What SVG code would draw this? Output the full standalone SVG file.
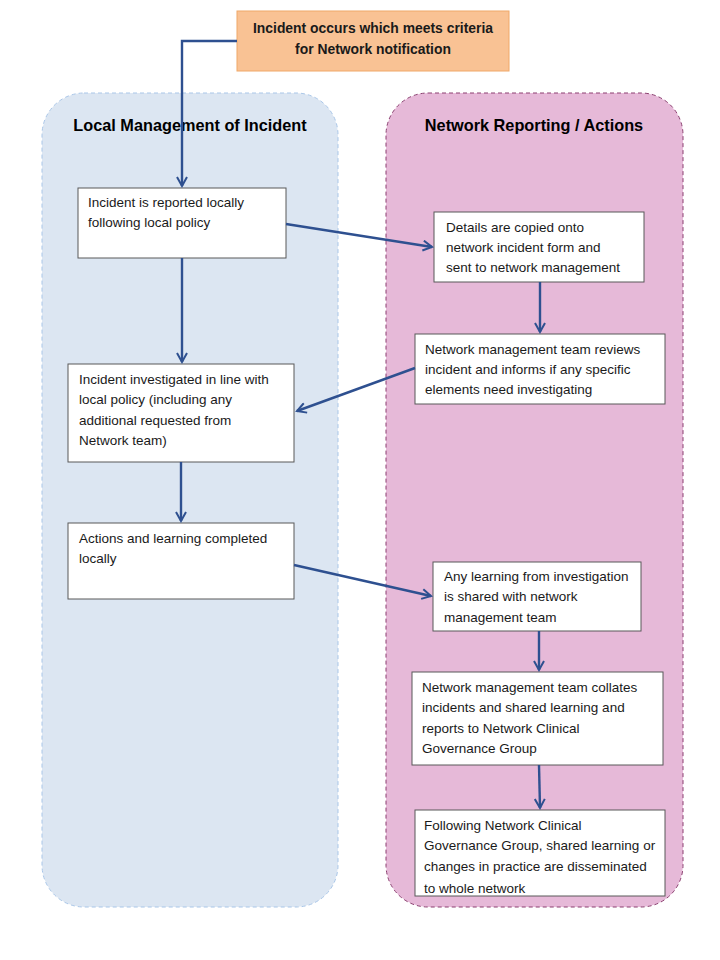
<svg xmlns="http://www.w3.org/2000/svg" width="720" height="960" viewBox="0 0 720 960">
<style>
.lane-title{font-family:"Liberation Sans",Arial,sans-serif;font-weight:bold;font-size:16.3px;fill:#000}
.box{fill:#fff;stroke:#595959;stroke-width:1}
.t{font-family:"Liberation Sans",Arial,sans-serif;font-size:13.5px;fill:#1a1a1a}
.tb{font-family:"Liberation Sans",Arial,sans-serif;font-size:13.9px;font-weight:bold;fill:#1a1a1a}
.conn{fill:none;stroke:#2E5090;stroke-width:2.4}
</style>
<defs>
<marker id="arr" viewBox="0 0 12 12" refX="10" refY="6" markerWidth="5" markerHeight="5" orient="auto" markerUnits="strokeWidth">
<path d="M1,1 L10,6 L1,11" fill="none" stroke="#2E5090" stroke-width="2"/>
</marker>
<clipPath id="clip8"><rect x="415" y="810" width="250" height="86"/></clipPath>
</defs>
<rect width="720" height="960" fill="#fff"/>
<g id="lane-local">
<rect x="42" y="93" width="296" height="814" rx="42" fill="#DCE6F2" stroke="#A9C6E8" stroke-width="1" stroke-dasharray="4,3"/>
<text class="lane-title" x="190" y="131" text-anchor="middle">Local Management of Incident</text>
</g>
<g id="lane-network">
<rect x="386" y="93" width="297" height="814" rx="42" fill="#E6B9D8" stroke="#8B3F70" stroke-width="1" stroke-dasharray="4,3"/>
<text class="lane-title" x="534" y="131" text-anchor="middle">Network Reporting / Actions</text>
</g>
<g id="start">
<rect x="237" y="11" width="272" height="60" fill="#F9C294" stroke="#F0A868" stroke-width="1"/>
<text class="tb" x="373" y="33" text-anchor="middle">Incident occurs which meets criteria</text>
<text class="tb" x="373" y="54" text-anchor="middle">for Network notification</text>
</g>
<g id="n1">
<rect class="box" x="78" y="188" width="208" height="70"/>
<text class="t" x="88" y="207">Incident is reported locally</text>
<text class="t" x="88" y="227">following local policy</text>
</g>
<g id="n2">
<rect class="box" x="434" y="212" width="210" height="70"/>
<text class="t" x="446" y="232">Details are copied onto</text>
<text class="t" x="446" y="252">network incident form and</text>
<text class="t" x="446" y="272">sent to network management</text>
</g>
<g id="n3">
<rect class="box" x="415" y="334" width="250" height="70"/>
<text class="t" x="425" y="354">Network management team reviews</text>
<text class="t" x="425" y="374">incident and informs if any specific</text>
<text class="t" x="425" y="394">elements need investigating</text>
</g>
<g id="n4">
<rect class="box" x="68" y="364" width="226" height="98"/>
<text class="t" x="79" y="384">Incident investigated in line with</text>
<text class="t" x="79" y="404">local policy (including any</text>
<text class="t" x="79" y="425">additional requested from</text>
<text class="t" x="79" y="445">Network team)</text>
</g>
<g id="n5">
<rect class="box" x="68" y="523" width="226" height="76"/>
<text class="t" x="79" y="543">Actions and learning completed</text>
<text class="t" x="79" y="563">locally</text>
</g>
<g id="n6">
<rect class="box" x="433" y="562" width="208" height="69"/>
<text class="t" x="444" y="581">Any learning from investigation</text>
<text class="t" x="444" y="601">is shared with network</text>
<text class="t" x="444" y="622">management team</text>
</g>
<g id="n7">
<rect class="box" x="412" y="672" width="251" height="93"/>
<text class="t" x="422" y="692">Network management team collates</text>
<text class="t" x="422" y="712">incidents and shared learning and</text>
<text class="t" x="422" y="733">reports to Network Clinical</text>
<text class="t" x="422" y="753">Governance Group</text>
</g>
<g id="n8">
<rect class="box" x="415" y="810" width="250" height="86"/>
<g clip-path="url(#clip8)">
<text class="t" x="424" y="830">Following Network Clinical</text>
<text class="t" x="424" y="850">Governance Group, shared learning or</text>
<text class="t" x="424" y="871">changes in practice are disseminated</text>
<text class="t" x="424" y="893">to whole network</text>
</g>
</g>
<g id="connectors">
<path class="conn" d="M237,41 H182 V186" marker-end="url(#arr)"/>
<path class="conn" d="M182,258 V362" marker-end="url(#arr)"/>
<path class="conn" d="M286,224 L432,247" marker-end="url(#arr)"/>
<path class="conn" d="M540,282 V332" marker-end="url(#arr)"/>
<path class="conn" d="M415,368 L297,411" marker-end="url(#arr)"/>
<path class="conn" d="M181,462 V521" marker-end="url(#arr)"/>
<path class="conn" d="M294,565 L431,596" marker-end="url(#arr)"/>
<path class="conn" d="M539,631 V670" marker-end="url(#arr)"/>
<path class="conn" d="M539,765 L540,808" marker-end="url(#arr)"/>
</g>
</svg>
